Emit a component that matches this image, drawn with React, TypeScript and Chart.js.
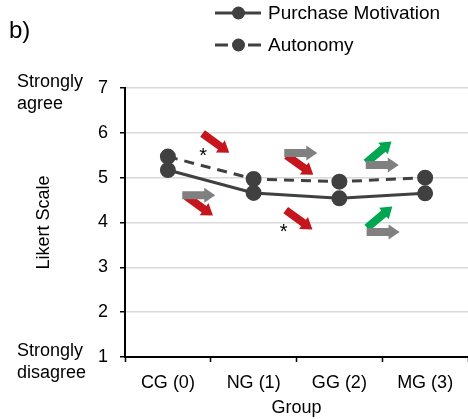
import React, { useEffect, useRef } from "react";
import { Chart, registerables } from "chart.js";

Chart.register(...registerables);

const categories = ["CG (0)", "NG (1)", "GG (2)", "MG (3)"];
const purchaseMotivation = [5.17, 4.66, 4.54, 4.65];
const autonomy = [5.47, 4.97, 4.91, 5.0];
const seriesLabels = ["Purchase Motivation", "Autonomy"];
const yTicks = [1, 2, 3, 4, 5, 6, 7];

// trend arrow annotations: category position (fractional), value, direction
const arrowX = [0.56, 0.37, 0.36, 1.54, 1.55, 1.53, 2.46, 2.5, 2.47, 2.51];
const arrowY = [5.77, 4.37, 4.61, 5.28, 5.55, 4.06, 5.57, 5.28, 4.12, 3.79];
const arrowDir = ["down", "down", "flat", "down", "flat", "down", "up", "flat", "up", "flat"];
// significance markers
const starX = [0.41, 1.35];
const starY = [5.57, 3.86];

const FONT = "'Liberation Sans', Arial, sans-serif";
const DARK = "#404040";
const COLORS: Record<string, string> = { down: "#C4161C", up: "#00A650", flat: "#808080" };

function drawArrow(ctx: CanvasRenderingContext2D, cx: number, cy: number, angle: number, color: string) {
  const len = 33, shaft = 8, headW = 15, headL = 11;
  ctx.save();
  ctx.translate(cx, cy);
  ctx.rotate(angle);
  ctx.fillStyle = color;
  ctx.beginPath();
  ctx.moveTo(-len / 2, -shaft / 2);
  ctx.lineTo(len / 2 - headL, -shaft / 2);
  ctx.lineTo(len / 2 - headL, -headW / 2);
  ctx.lineTo(len / 2, 0);
  ctx.lineTo(len / 2 - headL, headW / 2);
  ctx.lineTo(len / 2 - headL, shaft / 2);
  ctx.lineTo(-len / 2, shaft / 2);
  ctx.closePath();
  ctx.fill();
  ctx.restore();
}

const annotationPlugin = {
  id: "annotations",
  afterDatasetsDraw(chart: any) {
    const ctx = chart.ctx as CanvasRenderingContext2D;
    const xs = chart.scales.x;
    const ys = chart.scales.y;
    // coloured first, gray on top
    const idx = arrowDir.map((_d, i) => i);
    const sorted = [...idx.filter((i) => arrowDir[i] !== "flat"), ...idx.filter((i) => arrowDir[i] === "flat")];
    sorted.forEach((i) => {
      const d = arrowDir[i];
      const ang = d === "down" ? (36 * Math.PI) / 180 : d === "up" ? (-40 * Math.PI) / 180 : 0;
      drawArrow(ctx, xs.getPixelForValue(arrowX[i]), ys.getPixelForValue(arrowY[i]), ang, COLORS[d]);
    });
    ctx.save();
    ctx.fillStyle = "#000";
    ctx.font = `20px ${FONT}`;
    ctx.textAlign = "center";
    ctx.textBaseline = "middle";
    starX.forEach((sx, i) => {
      ctx.fillText("*", xs.getPixelForValue(sx), ys.getPixelForValue(starY[i]) + 4);
    });
    ctx.restore();
  },
  afterDraw(chart: any) {
    const ctx = chart.ctx as CanvasRenderingContext2D;
    ctx.save();
    // panel label
    ctx.fillStyle = "#000";
    ctx.font = `24px ${FONT}`;
    ctx.textAlign = "left";
    ctx.textBaseline = "alphabetic";
    ctx.fillText("b)", 9, 37.5);
    // anchor labels
    ctx.font = `18px ${FONT}`;
    ctx.fillText("Strongly", 17, 87);
    ctx.fillText("agree", 17, 109);
    ctx.fillText("Strongly", 17, 356);
    ctx.fillText("disagree", 17, 378);
    // legend
    const rows = [13, 45];
    chart.data.datasets.forEach((ds: any, i: number) => {
      const y = rows[i];
      ctx.strokeStyle = ds.borderColor;
      ctx.lineWidth = ds.borderWidth;
      ctx.beginPath();
      if (ds.borderDash && ds.borderDash.length) {
        ctx.moveTo(215, y);
        ctx.lineTo(228, y);
        ctx.moveTo(248, y);
        ctx.lineTo(261, y);
      } else {
        ctx.moveTo(215, y);
        ctx.lineTo(261, y);
      }
      ctx.stroke();
      ctx.fillStyle = ds.pointBackgroundColor;
      ctx.beginPath();
      ctx.arc(238.5, y, 6.5, 0, Math.PI * 2);
      ctx.fill();
      ctx.fillStyle = "#000";
      ctx.font = `19px ${FONT}`;
      ctx.textBaseline = "middle";
      ctx.fillText(ds.label, 268, y + 1);
    });
    ctx.restore();
  },
};

export default function App() {
  const ref = useRef<HTMLCanvasElement | null>(null);
  useEffect(() => {
    document.body.style.margin = "0";
    if (!ref.current) return;
    const chart = new Chart(ref.current, {
      type: "line",
      data: {
        labels: categories,
        datasets: [
          {
            label: seriesLabels[0],
            data: purchaseMotivation,
            borderColor: DARK,
            backgroundColor: DARK,
            pointBackgroundColor: DARK,
            pointBorderColor: DARK,
            borderWidth: 3,
            pointRadius: 6.5,
            borderDash: [],
          },
          {
            label: seriesLabels[1],
            data: autonomy,
            borderColor: DARK,
            backgroundColor: DARK,
            pointBackgroundColor: DARK,
            pointBorderColor: DARK,
            borderWidth: 3,
            pointRadius: 6.5,
            borderDash: [10, 7],
          },
        ],
      },
      options: {
        animation: false,
        responsive: true,
        maintainAspectRatio: false,
        layout: { autoPadding: false, padding: { top: 88, left: 0, right: 0, bottom: 0 } },
        plugins: { legend: { display: false }, tooltip: { enabled: false } },
        scales: {
          x: {
            offset: true,
            grid: { offset: true, drawOnChartArea: false, tickColor: "#000", tickLength: 5, tickWidth: 1.5 },
            border: { color: "#000", width: 2 },
            ticks: { color: "#000", font: { family: FONT, size: 18 }, padding: 10, maxRotation: 0 },
            title: { display: true, text: "Group", color: "#000", font: { family: FONT, size: 18 }, padding: { top: 0, bottom: 0 } },
            afterFit: (s: any) => { s.height = 62; },
          },
          y: {
            min: yTicks[0],
            max: yTicks[yTicks.length - 1],
            afterBuildTicks: (s: any) => { s.ticks = yTicks.map((v) => ({ value: v })); },
            grid: { color: "#d9d9d9", lineWidth: 1.5, tickColor: "#000", tickLength: 5, tickWidth: 1.5 },
            border: { color: "#000", width: 2 },
            ticks: { color: "#000", font: { family: FONT, size: 18 }, padding: 12 },
            title: { display: true, text: "Likert Scale", color: "#000", font: { family: FONT, size: 18 }, padding: { top: 33, bottom: 0 } },
            afterFit: (s: any) => { s.width = 125; },
          },
        },
      },
      plugins: [annotationPlugin],
    });
    return () => chart.destroy();
  }, []);
  return (
    <div style={{ width: 468, height: 419, position: "relative" }}>
      <canvas ref={ref} />
    </div>
  );
}
